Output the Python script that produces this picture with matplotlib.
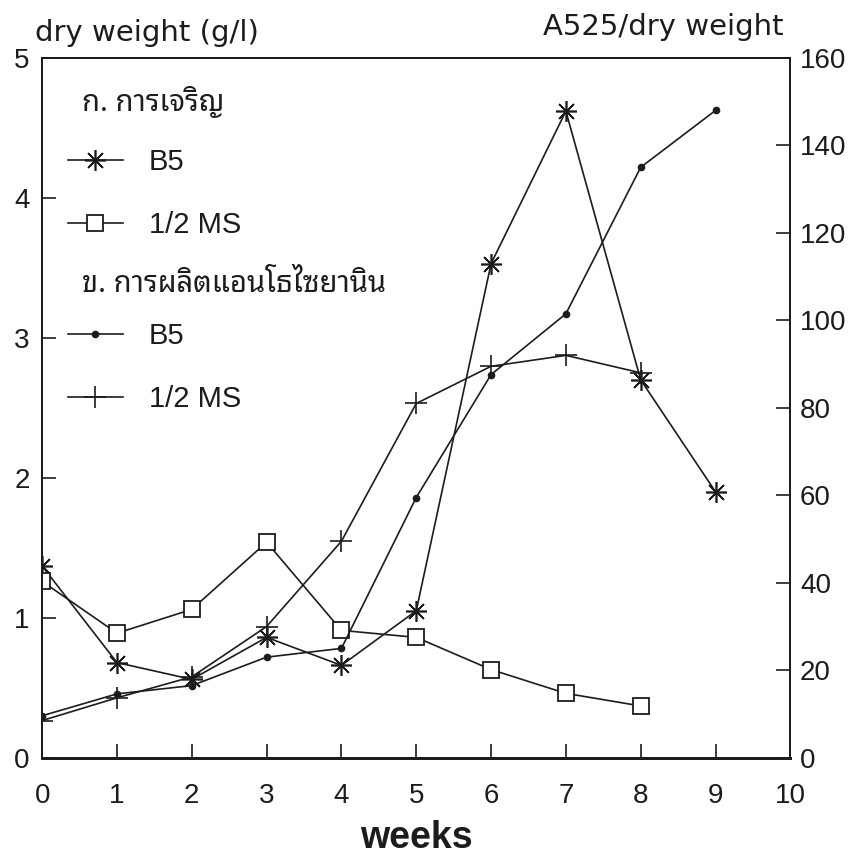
import matplotlib
matplotlib.use("Agg")
import matplotlib.pyplot as plt

# weeks of culture
weeks = [0, 1, 2, 3, 4, 5, 6, 7, 8, 9]

# growth, dry weight (g/l)
dw_b5 = [1.37, 0.68, 0.56, 0.86, 0.66, 1.05, 3.53, 4.62, 2.70, 1.90]
dw_ms = [1.26, 0.89, 1.06, 1.54, 0.91, 0.86, 0.63, 0.46, 0.37]

# anthocyanin production, A525/dry weight
an_b5 = [9.6, 14.6, 16.5, 23.0, 25.0, 59.5, 87.6, 101.5, 135.0, 148.0]
an_ms = [8.5, 13.7, 18.5, 30.0, 49.5, 81.0, 89.5, 92.0, 88.0]

ink = "#1c1c1c"
plt.rcParams["font.family"] = ["Liberation Sans", "DejaVu Sans"]
thai = ["Tlwg Typo", "Noto Sans Thai Looped", "Sarabun", "DejaVu Sans"]

fig = plt.figure(figsize=(8.6, 8.65), dpi=100)
ax = fig.add_axes([0.049, 0.124, 0.870, 0.809])
ax2 = ax.twinx()

asterisk = (8, 2, 0)
l1, = ax.plot(weeks, dw_b5, color=ink, lw=1.2, marker=asterisk, ms=15, mew=1.2)
l2, = ax.plot(weeks[:len(dw_ms)], dw_ms, color=ink, lw=1.2, marker="s", ms=11,
              mfc="white", mec=ink, mew=1.3)
l3, = ax2.plot(weeks, an_b5, color=ink, lw=1.2, marker="o", ms=4.5, mfc=ink, mec=ink)
l4, = ax2.plot(weeks[:len(an_ms)], an_ms, color=ink, lw=1.2, marker="+", ms=16, mew=1.2)

ax.set_xlim(0, 10)
ax.set_ylim(0, 5)
ax2.set_ylim(0, 160)
ax.set_xticks(range(0, 11))
ax.set_yticks(range(0, 6))
ax2.set_yticks(range(0, 161, 20))

for a in (ax, ax2):
    for s in a.spines.values():
        s.set_color(ink)
        s.set_linewidth(1.3)
    a.spines["bottom"].set_linewidth(2.0)
ax.tick_params(axis="x", direction="in", length=10, width=1.2, pad=18,
               labelsize=20, colors=ink)
ax.tick_params(axis="y", direction="in", length=10, width=1.2, pad=9,
               labelsize=20, colors=ink)
ax2.tick_params(axis="y", direction="in", length=10, width=1.2, pad=7,
                labelsize=20, colors=ink)

ax.set_xlabel("weeks", fontsize=27, fontweight="bold", color=ink, labelpad=8)
fig.text(0.041, 0.953, "dry weight (g/l)", fontsize=21, color=ink,
         family=["DejaVu Sans"], va="baseline")
fig.text(0.911, 0.960, "A525/dry weight", fontsize=21, color=ink,
         family=["DejaVu Sans"], ha="right", va="baseline")

# legend: two groups, each under its own heading
ax.text(0.053, 0.937, "ก. การเจริญ", transform=ax.transAxes, fontsize=21,
        family=thai, fontweight="bold", color=ink, va="center")
ax.text(0.053, 0.676, "ข. การผลิตแอนโธไซยานิน", transform=ax.transAxes,
        fontsize=21, family=thai, fontweight="bold", color=ink, va="center")

leg_kw = dict(loc="center left", frameon=False, fontsize=21,
              handlelength=1.86, handletextpad=0.9, labelspacing=1.2,
              borderaxespad=0.0, borderpad=0.0, labelcolor=ink)
leg1 = ax.legend([l1, l2], ["B5", "1/2 MS"], bbox_to_anchor=(0.035, 0.806), **leg_kw)
ax.add_artist(leg1)
ax.legend([l3, l4], ["B5", "1/2 MS"], bbox_to_anchor=(0.035, 0.558), **leg_kw)

fig.savefig("out.png", dpi=100)
